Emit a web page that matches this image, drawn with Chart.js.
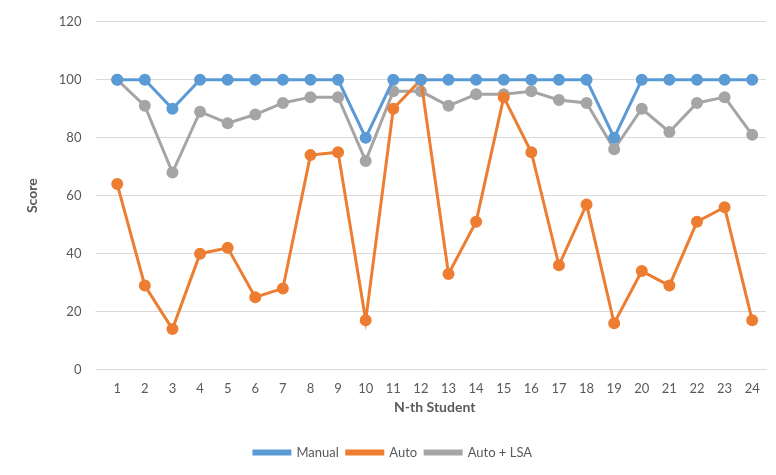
<!DOCTYPE html>
<html>
<head>
<script src="https://cdn.jsdelivr.net/npm/chart.js@4"></script>
<style>
body { margin: 0; background: #fff; }
#wrap { width: 776px; height: 475px; }
</style>
</head>
<body>
<div id="wrap"><canvas id="myChart"></canvas></div>
<script>
var students = ["1","2","3","4","5","6","7","8","9","10","11","12","13","14","15","16","17","18","19","20","21","22","23","24"];
var manual = [100,100,90,100,100,100,100,100,100,80,100,100,100,100,100,100,100,100,80,100,100,100,100,100];
var auto = [64,29,14,40,42,25,28,74,75,17,90,100,33,51,94,75,36,57,16,34,29,51,56,17];
var autoLsa = [100,91,68,89,85,88,92,94,94,72,96,96,91,95,95,96,93,92,76,90,82,92,94,81];

Chart.defaults.font.family = "Lato, 'Liberation Sans', sans-serif";
Chart.defaults.color = "#595959";

function series(label, data, color) {
	return {
		label: label,
		data: data,
		borderColor: color,
		backgroundColor: color,
		borderWidth: 3,
		pointRadius: 4.5,
		pointHoverRadius: 4.5,
		tension: 0
	};
}

new Chart("myChart", {
	type: "line",
	data: {
		labels: students,
		datasets: [
			series("Manual", manual, "#5B9BD5"),
			series("Auto", auto, "#ED7D31"),
			series("Auto + LSA", autoLsa, "#A5A5A5")
		]
	},
	options: {
		responsive: true,
		maintainAspectRatio: false,
		animation: false,
		layout: { padding: { left: 20, right: 10, top: 14, bottom: 6 } },
		plugins: {
			legend: {
				position: "bottom",
				labels: { boxWidth: 36, boxHeight: 3, font: { size: 13 }, padding: 8 }
			},
			tooltip: { enabled: false }
		},
		scales: {
			x: {
				offset: true,
				grid: { display: false },
				border: { color: "#d9d9d9" },
				ticks: { font: { size: 13 } },
				title: { display: true, text: "N-th Student", font: { size: 14, weight: "bold" }, padding: { top: 0, bottom: 22 } }
			},
			y: {
				min: 0,
				max: 120,
				ticks: { stepSize: 20, font: { size: 13 }, padding: 14 },
				grid: { color: "#d9d9d9" },
				border: { display: false },
				title: { display: true, text: "Score", font: { size: 14, weight: "bold" } }
			}
		}
	}
});
</script>
</body>
</html>
